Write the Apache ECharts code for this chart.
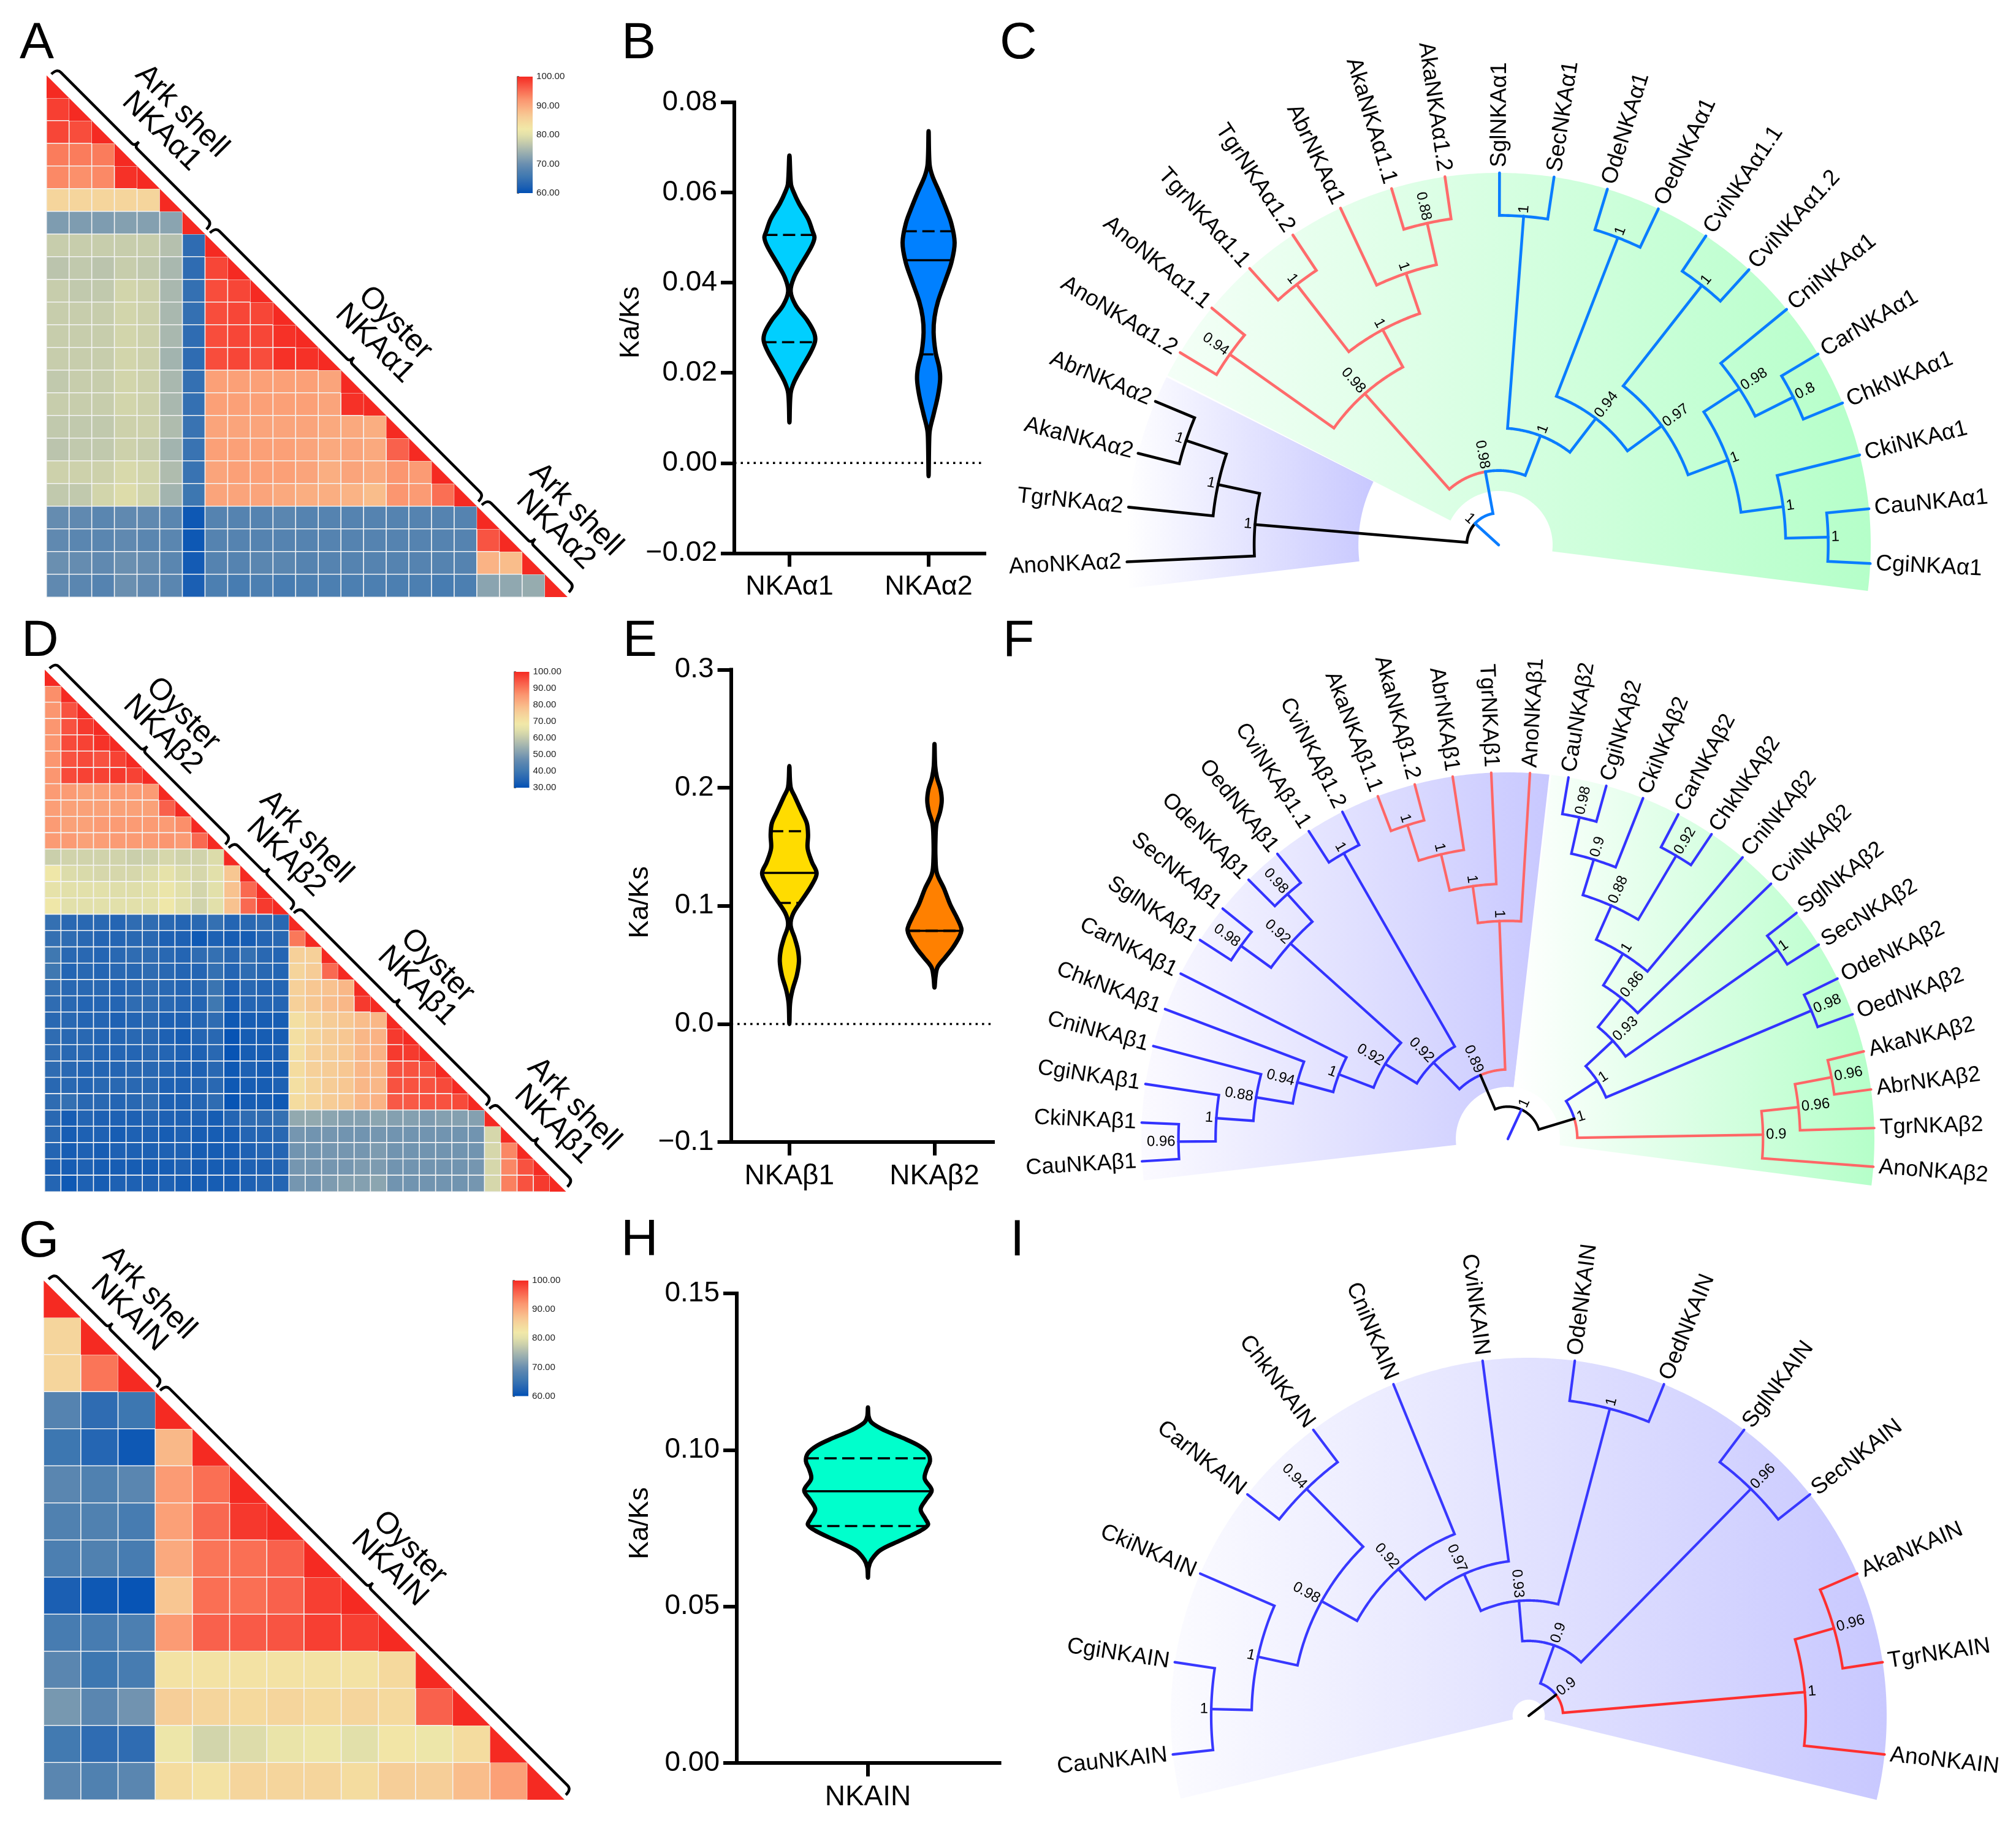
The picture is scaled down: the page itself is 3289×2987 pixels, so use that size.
<!DOCTYPE html>
<html><head><meta charset="utf-8">
<script src="https://cdn.jsdelivr.net/npm/echarts@6/dist/echarts.min.js"></script>
<style>html,body{margin:0;padding:0;background:#fff}#c{width:3289px;height:2987px}</style>
</head><body><div id="c"></div>
<script>
const FONT='"Liberation Sans",Arial,sans-serif';
const heatPalette=['#0050b5','#1b5fb3','#2f6cb2','#427ab1','#5583b0','#6a8fb0','#84a0b0','#9cb0af','#b5c0ae','#cdd1ab','#e2e0aa','#f1e8a8','#f4dc9f','#f6ce98','#f9bd8b','#faa97e','#fb9670','#fa7c5c','#f9614c','#f74637','#f52a22'];

// ---- pairwise identity matrices (lower triangle, last entry of each row is the diagonal)
const heatA=[
[100],[98.5,100],[98,97.5,100],[94,94,94,100],[93,92.5,93,99.5,100],[85,85,85,85,85,100],
[71.5,71.5,71.5,72,72,72.5,100],
[77.5,77.5,77.5,77.5,77.5,76,64,100],
[76.5,77,76.5,77.5,77,75,64,98,100],
[77.5,77,77,78.5,78,75,64.5,97.5,98,100],
[77.5,77.5,77.5,78.5,78,75,64.5,97.5,98,98,100],
[77.5,77.5,77.5,78.5,78,75,64,97.5,98,98,99.5,100],
[77.5,77.5,77.5,78.5,78,74.5,64,97.5,98,97.5,99.5,99.5,100],
[77,77.5,77.5,78.5,78,75,64.5,91,91,91,91,91,90.5,100],
[77.5,77.5,77.5,78.5,78,75,64.5,91,91,91,91,91,90.5,99.5,100],
[77,77,77,78,78,75.5,65,90.5,90.5,90.5,90.5,90.5,90,90,89.5,100],
[76.5,77,77,78,77.5,74.5,65,91,91,91,91,90.5,90,90.5,90,96,100],
[78,78,78,79,78.5,75.5,65,90.5,91,91,91,90.5,89.5,90.5,90,92,91.5,100],
[77,77,78.5,79.5,78.5,74.5,65.5,90.5,90.5,90.5,90,89.5,89.5,89,88,92,91.5,95,100],
[69.5,69,68.5,69,69,68.5,61,68,68,68,68.5,68,68,68,68,68,68,68,68,100],
[69,68.5,68.5,69,68.5,68.5,61,68,68,68,68,68,68,68,68,68,68,68,68,97,100],
[70,69.5,69,70,69.5,68.5,61.5,68,68,68.5,68.5,68,68,68,68,68,68,68,68,89,88,100],
[69,68.5,68,70,69,68.5,62,67,66.5,67,66.5,67,67,67,67,67,67,66.5,67,72.5,73,73.5,100]];
const heatD=[
[100],[87,100],[86,95,100],[86,95,98,100],[86,96,97,99,100],[86,95,96,95,97,100],[86,96,97,97,98,97,100],
[85,85,84,84.5,85,85,85,100],[84.5,84,84,84,84,84,84,93,100],[85,84,84,85,85,85,85,85,87,100],
[85,85,84,84.5,85,85,85,86,85,92,100],
[61,62,62,62,62,61,61.5,63,62,62,64,100],
[68,64,63.5,63,63,63,64,66,64,63,65,77,100],
[66,65,65,65,64.5,64.5,65,67,65,62.5,65,78,92,100],
[68,65,65,65,65,65,65,68,65,62,65,78,92,98,100],
[38,36,36,36,35,37,37,36,35,36,38,35,36,37,36,100],
[38,37,36,35,35,36,36,34,34,32,34,33,33,35,36,90,100],
[40,36,36,35,36,37,37,36,35,37,38,36,38,36,35,75,75,100],
[40,35,36,35,36,36,37,36,35,35,38,35,37,36,35,74,76,92,100],
[38,36,36,36,35,36,37,36,35,36,39,34,36,35,35,75,77,78,80,100],
[37,36,35,35,35,37,37,36,35,35,40,33,35,35,35,75,77,79,80,98,100],
[36,36,35,35,34,35,36,34,34,35,37,32,33,33,33,71,74,76,77,79,80,100],
[37,36,36,35,35,36,36,34,33,35,36,31,33,33,33,71,74,76,77,80,81,98,100],
[37,36,36,35,35,35,36,35,34,34,36,31,33,33,34,71,75,76,77,80,81,98,98,100],
[37,36,35,35,35,36,36,35,34,34,36,32,34,33,33,72,75,76,77,80,80,95,95,95,100],
[36,36,35,36,36,36,36,34,34,35,36,32,33,33,34,71,74,76,77,80,80,95,95,95,96,100],
[37,38,36,36,35,36,37,34,34,35,37,31,33,33,32,72,74,76,77,80,81,94,94,95,95,96,100],
[36,33,35,34,34,34,35,34,34,34,33,35,37,37,38,53,53,52,51,51,52,51,51,50,51,51,51,100],
[36,33,34,34,33,34,34,33,34,33,33,33,35,35,36,49,48.5,49,48.5,48.5,49,48.5,48.5,48.5,48.5,48.5,48.5,63,100],
[35,33,34,33,34,34,34,34,34,33,33,33,34,35,35,48.5,48.5,49,49,49,50,48.5,48.5,48.5,48.5,48.5,48.5,63,88,100],
[34,33,34,33,33,33,33,33,34,33,33,33,34,34,35,49,49,49,49,50,50,48.5,48.5,48.5,48.5,48.5,49,63,88,95,100],
[35,32,34,33,34,34,34,34,33,33,33,33,34,35,35,49,48.5,50,51,51,52,48.5,48.5,48.5,48.5,48.5,49,63,89,95,98,100]];
const heatG=[
[100],[85,100],[85,94.5,100],[68,64,65.5,100],[65.5,63,61,88.5,100],[68.5,67.5,68.5,91.5,95,100],
[67.5,67.5,66.5,91,95.5,99,100],[67,67.5,66.5,90,94.5,95,96,100],[62,61,60.5,87,95,95,96,98.5,100],
[66.5,66.5,67,91.5,96,96.5,97,98.5,98.5,100],[68.5,65.5,66.5,83,83,83,83,83,83,84.5,100],
[71,68.5,70.5,86,85,84.5,85,84.5,85,84.5,96,100],
[66,64,64,81.5,78.5,79.5,81,81.5,80,82.5,81.5,84,100],
[68.5,67.5,68.5,84,83,85,85,85,84,86,86,88,91,100]];
const bracesA=[[0,7],[7,19],[19,23]], bracesD=[[0,11],[11,15],[15,27],[27,32]], bracesG=[[0,3],[3,14]];

// ---- violin outlines: value, half width
const vAlpha1V=[.0682,.0619,.0602,.0576,.0541,.0515,.05,.048,.0446,.0411,.0381,.035,.0316,.029,.0271,.0246,.0212,.0181,.0155,.009];
const vAlpha1W=[0,.011,.029,.068,.135,.165,.18,.158,.094,.032,.009,.045,.129,.176,.185,.153,.09,.036,.009,0];
const vAlpha1Q=[.0506,.0381,.0268];
const vAlpha2V=[.0736,.0663,.0637,.0602,.0567,.0533,.0489,.0446,.0402,.0359,.0324,.029,.0246,.0212,.0186,.0151,.0108,.0073,.0047,-.0029];
const vAlpha2W=[0,.007,.027,.076,.122,.162,.187,.165,.117,.068,.043,.036,.05,.076,.083,.068,.036,.009,.004,0];
const vAlpha2Q=[.0514,.045,.0241];
const vBeta1V=[.2183,.2005,.1924,.1794,.1697,.1599,.1486,.1372,.1275,.1178,.1064,.0934,.0837,.0723,.0626,.0529,.0415,.0285,.0172,0];
const vBeta1W=[0,.009,.038,.086,.121,.129,.126,.155,.188,.155,.095,.026,.009,.038,.059,.066,.052,.021,.005,0];
const vBeta1Q=[.1632,.1279,.1025];
const vBeta2V=[.2371,.2183,.2086,.1989,.1891,.1794,.1697,.1567,.1405,.1275,.1145,.1015,.0918,.0837,.0795,.074,.0642,.0561,.048,.0399,.0308];
const vBeta2W=[0,.005,.017,.041,.05,.038,.014,.007,.007,.017,.066,.107,.147,.178,.186,.172,.124,.072,.021,.007,0];
const vBeta2Q=[.0788,.0788,.0788];
const vNkainV=[.1136,.1106,.1087,.1063,.1038,.1013,.0989,.0964,.0939,.0908,.0871,.0841,.081,.0779,.0761,.0742,.0711,.068,.065,.0625,.0592];
const vNkainW=[0,.006,.031,.133,.286,.418,.49,.506,.48,.463,.52,.473,.43,.47,.49,.429,.265,.102,.031,.006,0];
const vNkainQ=[.0973,.0868,.0757];

// ---- trees: [support, colour key or null, child, child]; leaves are names, ordered clockwise
const treeC=[1,null,
 [1,'k','AnoNKAα2',[1,null,'TgrNKAα2',[1,null,'AkaNKAα2','AbrNKAα2']]],
 [.98,'b',
  [.98,'r',[.94,null,'AnoNKAα1.2','AnoNKAα1.1'],[1,null,[1,null,'TgrNKAα1.1','TgrNKAα1.2'],[1,null,'AbrNKAα1',[.88,null,'AkaNKAα1.1','AkaNKAα1.2']]]],
  [1,'b',[1,null,'SglNKAα1','SecNKAα1'],[.94,null,[1,null,'OdeNKAα1','OedNKAα1'],[.97,null,[1,null,'CviNKAα1.1','CviNKAα1.2'],[1,null,[.98,null,'CniNKAα1',[.8,null,'CarNKAα1','ChkNKAα1']],[1,null,'CkiNKAα1',[1,null,'CauNKAα1','CgiNKAα1']]]]]]]];
const treeF=[1,'k',
 [.89,'k',
  [.92,'b',[.92,null,[1,null,[.94,null,[.88,null,[1,null,[.96,null,'CauNKAβ1','CkiNKAβ1'],'CgiNKAβ1'],'CniNKAβ1'],'ChkNKAβ1'],'CarNKAβ1'],
    [.92,null,[.98,null,'SglNKAβ1','SecNKAβ1'],[.98,null,'OdeNKAβ1','OedNKAβ1']]],[1,null,'CviNKAβ1.1','CviNKAβ1.2']],
  [1,'r',[1,null,[1,null,[1,null,'AkaNKAβ1.1','AkaNKAβ1.2'],'AbrNKAβ1'],'TgrNKAβ1'],'AnoNKAβ1']],
 [1,'k',
  [1,'b',[.93,null,[.86,null,[1,null,[.88,null,[.9,null,[.98,null,'CauNKAβ2','CgiNKAβ2'],'CkiNKAβ2'],[.92,null,'CarNKAβ2','ChkNKAβ2']],'CniNKAβ2'],'CviNKAβ2'],[1,null,'SglNKAβ2','SecNKAβ2']],[.98,null,'OdeNKAβ2','OedNKAβ2']],
  [.9,'r',[.96,null,[.96,null,'AkaNKAβ2','AbrNKAβ2'],'TgrNKAβ2'],'AnoNKAβ2']]];
const treeI=[.9,'b',
 [.9,'b',[.93,null,[.97,null,[.92,null,[.98,null,[1,null,[1,null,'CauNKAIN','CgiNKAIN'],'CkiNKAIN'],[.94,null,'CarNKAIN','ChkNKAIN']],'CniNKAIN'],'CviNKAIN'],[1,null,'OdeNKAIN','OedNKAIN']],[.96,null,'SglNKAIN','SecNKAIN']],
 [1,'r',[.96,null,'AkaNKAIN','TgrNKAIN'],'AnoNKAIN']];
// fans: inner radius (share of outer), start angle, end angle
const fansC=[[.145,-7.1,153.2,'#f4fff7','#b5ffc9'],[.377,153.2,186.7,'#ffffff','#c8c8ff']];
const fansF=[[.142,83.5,186.6,'#fbfaff','#c8c8ff'],[.142,-7.3,83.5,'#ffffff','#b5ffc9']];
const fansI=[[.045,-13.6,193.4,'#fbfbff','#c8c8ff']];

const grid=[],xAxis=[],yAxis=[],series=[],visualMap=[],polar=[],angleAxis=[],radiusAxis=[],gfx=[];

function addHeat(rows,rect,range,braces){
  const g=grid.length; grid.push({left:rect[0],top:rect[1],width:rect[2]-rect[0],height:rect[3]-rect[1],containLabel:false});
  const cats=rows.map((_,i)=>String(i));
  xAxis.push({gridIndex:g,type:'category',data:cats,show:false});
  yAxis.push({gridIndex:g,type:'category',data:cats,show:false,inverse:true});
  const cells=[],diag=[];
  rows.forEach((r,i)=>r.forEach((v,j)=>{ if(j<i) cells.push([j,i,v]); else diag.push([j,i,v]); }));
  visualMap.push({show:false,min:range[0],max:range[1],dimension:2,seriesIndex:series.length,inRange:{color:heatPalette}});
  series.push({type:'heatmap',xAxisIndex:g,yAxisIndex:g,data:cells,progressive:0,itemStyle:{borderColor:'#f4f4f4',borderWidth:1.6},emphasis:{disabled:true}});
  series.push({type:'custom',xAxisIndex:g,yAxisIndex:g,data:diag,encode:{x:0,y:1},progressive:0,
    renderItem(p,api){
      const c=api.coord([api.value(0),api.value(1)]),s=api.size([1,1]);
      return {type:'polygon',shape:{points:[[c[0]-s[0]/2,c[1]-s[1]/2],[c[0]-s[0]/2,c[1]+s[1]/2],[c[0]+s[0]/2,c[1]+s[1]/2]]},
        style:{fill:heatPalette[20],stroke:'#fff',lineWidth:0}};
    }});
  series.push({type:'custom',xAxisIndex:g,yAxisIndex:g,data:braces,encode:{x:0,y:1},z:5,
    renderItem(p,api){
      const a=braces[p.dataIndex][0],b=braces[p.dataIndex][1];
      const c0=api.coord([0,0]),s=api.size([1,1]);
      const ox=c0[0]-s[0]/2,oy=c0[1]-s[1]/2,q=Math.SQRT1_2,L=Math.hypot(s[0],s[1]);
      const P=(u,v)=>{const x=ox+u*s[0]/L*1,y=oy+u*s[1]/L*1;return (x+v*q).toFixed(1)+' '+(y-v*q).toFixed(1);};
      const A=a*L+4,B=b*L-4,M=(a+b)/2*L,h=20;
      const d='M'+P(A,7)+' Q'+P(A,h)+' '+P(A+9,h)+' L'+P(M-6,h)+' Q'+P(M,h)+' '+P(M,h+10)+' Q'+P(M,h)+' '+P(M+6,h)+' L'+P(B-9,h)+' Q'+P(B,h)+' '+P(B,7);
      return {type:'path',shape:{pathData:d},style:{fill:'none',stroke:'#000',lineWidth:4.5}};
    }});
}
function addColorbar(rect,min,max){
  const g=grid.length; grid.push({left:rect[0],top:rect[1],width:rect[2]-rect[0],height:rect[3]-rect[1]});
  xAxis.push({gridIndex:g,type:'value',min:0,max:1,show:false});
  yAxis.push({gridIndex:g,type:'value',min:min,max:max,interval:10,position:'right',splitLine:{show:false},
    axisLine:{show:true,lineStyle:{color:'#444',width:1.5}},axisTick:{show:true,length:3,lineStyle:{color:'#444',width:1.5}},
    minorTick:{show:true,splitNumber:2,length:3,lineStyle:{color:'#444',width:1.5}},
    axisLabel:{margin:6,fontFamily:FONT,fontSize:15.2,color:'#222',formatter:v=>v.toFixed(2)}});
  series.push({type:'custom',xAxisIndex:g,yAxisIndex:g,data:[[0,min],[1,max]],encode:{x:0,y:1},
    renderItem(p,api){
      if(p.dataIndex) return null;
      const a=api.coord([0,max]),b=api.coord([1,min]);
      return {type:'rect',shape:{x:a[0],y:a[1],width:b[0]-a[0],height:b[1]-a[1]},
        style:{fill:{type:'linear',x:0,y:1,x2:0,y2:0,colorStops:heatPalette.map((c,i)=>({offset:i/20,color:c}))}}};
    }});
}
function addViolinPanel(rect,xr,yr,cfg){
  const g=grid.length; grid.push({left:rect[0],top:rect[1],width:rect[2]-rect[0],height:rect[3]-rect[1]});
  const fs=cfg.catFont||45, cv=cfg.cats.map((_,i)=>i);
  xAxis.push({gridIndex:g,type:'value',min:xr[0],max:xr[1],splitLine:{show:false},
    axisLine:{show:true,onZero:false,lineStyle:{color:'#000',width:6,cap:'square'}},
    axisTick:{show:true,customValues:cv,length:22,lineStyle:{color:'#000',width:6}},
    axisLabel:{show:true,customValues:cv,margin:cfg.catMargin||33,fontFamily:FONT,fontSize:fs,color:'#000',formatter:v=>cfg.cats[Math.round(v)]||''}});
  yAxis.push({gridIndex:g,type:'value',min:yr[0],max:yr[1],interval:yr[2],splitLine:{show:false},
    axisLine:{show:true,onZero:false,lineStyle:{color:'#000',width:6,cap:'square'}},
    axisTick:{show:true,length:22,lineStyle:{color:'#000',width:6}},
    axisLabel:{margin:28,fontFamily:FONT,fontSize:46,color:'#000',showMinLabel:true,showMaxLabel:true,formatter:v=>(Math.abs(v)<1e-9?0:v).toFixed(yr[3]).replace('-','\u2212')}});
  if(cfg.zero) series.push({type:'line',xAxisIndex:g,yAxisIndex:g,data:[[xr[0],0],[xr[1],0]],symbol:'none',z:1,lineStyle:{color:'#000',width:3.5,type:[3.5,7]}});
  cfg.violins.forEach((V,i)=>{
    const pts=V.v.map((y,k)=>[V.w[k],y]);
    series.push({type:'custom',xAxisIndex:g,yAxisIndex:g,data:pts,encode:{x:0,y:1},z:3,
      renderItem(p,api){
        if(p.dataIndex) return null;
        const right=V.v.map((y,k)=>api.coord([i+V.w[k],y]));
        const left=V.v.map((y,k)=>api.coord([i-V.w[k],y])).reverse();
        const ws=y=>{ for(let k=0;k<V.v.length-1;k++){ if(y<=V.v[k]&&y>=V.v[k+1]){const t=(V.v[k]-y)/(V.v[k]-V.v[k+1]);return V.w[k]+t*(V.w[k+1]-V.w[k]);} } return 0; };
        const kids=[{type:'polygon',shape:{points:right.concat(left.slice(1,-1)),smooth:0.35},style:{fill:V.color,stroke:'#000',lineWidth:7,lineJoin:'round'}}];
        V.q.forEach((y,k)=>{
          const w=ws(y),a=api.coord([i-w,y]),b=api.coord([i+w,y]);
          kids.push({type:'line',shape:{x1:a[0],y1:a[1],x2:b[0],y2:b[1]},style:{stroke:'#000',lineWidth:3.5,lineDash:k===1?null:[20,9]},z2:3});
        });
        return {type:'group',children:kids};
      }});
  });
}
function addTree(tree,cx,cy,R,depth,a0,step,colors,stemColor,fans,fontSize,lineW){
  const idx=polar.length;
  polar.push({center:[cx,cy],radius:[0,R]});
  angleAxis.push({polarIndex:idx,type:'value',min:-90,max:270,startAngle:-90,clockwise:false,show:false});
  radiusAxis.push({polarIndex:idx,type:'value',min:0,max:1,show:false});
  const segs=[],labels=[]; let n=0;
  const rOf=h=>1-h/depth;
  function walk(node,col){
    if(typeof node==='string'){ const ang=a0-step*(n++); labels.push([1,ang,node,1]); return {h:0,ang,col}; }
    const c=node[1]?colors[node[1]]:col;
    const kids=node.slice(2).map(k=>walk(k,c));
    const h=Math.max(...kids.map(k=>k.h))+1, ang=(kids[0].ang+kids[kids.length-1].ang)/2;
    kids.forEach(k=>segs.push([rOf(h),k.ang,rOf(k.h),ang,k.col]));
    labels.push([rOf(h),ang,String(node[0]),0]);
    return {h,ang,col:c};
  }
  const root=walk(tree,stemColor);
  segs.push([0,root.ang,rOf(root.h),root.ang,stemColor]);
  series.push({type:'custom',coordinateSystem:'polar',polarIndex:idx,data:fans.map(f=>[f[0],f[1]]),z:1,silent:true,
    renderItem(p,api){
      const f=fans[p.dataIndex],pts=[];
      for(let a=f[1];a<=f[2]+1e-6;a+=0.5) pts.push(api.coord([1,a]).slice(0,2));
      for(let a=f[2];a>=f[1]-1e-6;a-=0.5) pts.push(api.coord([f[0],a]).slice(0,2));
      return {type:'polygon',shape:{points:pts},style:{fill:{type:'linear',x:0,y:0,x2:1,y2:0,colorStops:[{offset:0,color:f[3]},{offset:1,color:f[4]}]}}};
    }});
  series.push({type:'custom',coordinateSystem:'polar',polarIndex:idx,data:segs.map(s=>[s[0],s[1]]),z:2,silent:true,
    renderItem(p,api){
      const s=segs[p.dataIndex],pts=[],dir=s[3]>s[1]?1:-1;
      pts.push(api.coord([s[2],s[1]]).slice(0,2));
      for(let a=s[1];dir*(s[3]-a)>0;a+=dir*0.5) pts.push(api.coord([s[0],a]).slice(0,2));
      pts.push(api.coord([s[0],s[3]]).slice(0,2));
      return {type:'polyline',shape:{points:pts},style:{fill:'none',stroke:s[4],lineWidth:lineW,lineJoin:'miter',lineCap:'round'}};
    }});
  series.push({type:'custom',coordinateSystem:'polar',polarIndex:idx,data:labels.map(l=>[l[0],l[1]]),z:3,silent:true,
    renderItem(p,api){
      const l=labels[p.dataIndex],c=api.coord([l[0],l[1]]),rad=l[1]*Math.PI/180,right=Math.cos(rad)>=-1e-9;
      const gap=l[3]?9:5;
      return {type:'text',x:c[0]+gap*Math.cos(rad),y:c[1]-gap*Math.sin(rad),rotation:right?rad:rad-Math.PI,
        style:{text:l[2],fill:'#000',font:(l[3]?fontSize:24)+'px '+FONT,textAlign:right?'left':'right',textVerticalAlign:'middle',verticalAlign:'middle'}};
    }});
}
function text(t,x,y,size,rot,extra){
  gfx.push(Object.assign({type:'text',x,y,rotation:rot||0,z:50,silent:true,
    style:{text:t,fill:'#000',font:size+'px '+FONT,textAlign:'center',textVerticalAlign:'middle',verticalAlign:'middle'}},extra||{}));
}

addHeat(heatA,[76,123,926,974],[60,100],bracesA);
addHeat(heatD,[73,1092.5,923.5,1944],[30,100],bracesD);
addHeat(heatG,[71.4,2089,921,2936],[60,100],bracesG);
addColorbar([844,125,869,315],60,100);
addColorbar([839,1096,863.5,1285],30,100);
addColorbar([837,2089,862,2277.5],60,100);

addViolinPanel([1198,167,1606,902.4],[-0.396,1.401],[-0.02,0.08,0.02,2],{cats:['NKAα1','NKAα2'],zero:true,violins:[
  {v:vAlpha1V,w:vAlpha1W,q:vAlpha1Q,color:'#00cfff'},{v:vAlpha2V,w:vAlpha2W,q:vAlpha2Q,color:'#0080ff'}]});
addViolinPanel([1192.6,1092.5,1620,1863],[-0.402,1.403],[-0.1,0.3,0.1,1],{cats:['NKAβ1','NKAβ2'],zero:true,catFont:46,violins:[
  {v:vBeta1V,w:vBeta1W,q:vBeta1Q,color:'#ffdc00'},{v:vBeta2V,w:vBeta2W,q:vBeta2Q,color:'#ff8000'}]});
addViolinPanel([1202,2110,1630.6,2876],[-1.07,1.073],[0,0.15,0.05,2],{cats:['NKAIN'],catFont:46,violins:[
  {v:vNkainV,w:vNkainW,q:vNkainQ,color:'#00ffcc'}]});

addTree(treeC,2445,889,607,8.75,182.6,8.43,{k:'#000',r:'#ff6b6b',b:'#0a7dff'},'#0a7dff',fansC,37,4.6);
addTree(treeF,2460,1858,598,9.87,183.5,6.06,{k:'#000',r:'#ff6666',b:'#3333ff'},'#3333ff',fansF,36,4.2);
addTree(treeI,2494,2799,584,8.85,186.2,14.8,{k:'#000',r:'#ff3030',b:'#3838ff'},'#000',fansI,37,4.2);

// panel letters
[['A',32,72],['B',1014,72],['C',1631,72],['D',35,1047],['E',1016,1047],['F',1636,1047],['G',31,2027],['H',1013,2025],['I',1648,2025]]
  .forEach(l=>text(l[0],l[1],l[2],84,0,{style:{text:l[0],fill:'#000',font:'84px '+FONT,textAlign:'left',textVerticalAlign:'middle',verticalAlign:'middle'}}));
// group labels
const R45=-Math.PI/4, groupFont=50, groupLine=47;
[['Ark shell\nNKAα1',280,198],['Oyster\nNKAα1',628,544],['Ark shell\nNKAα2',923,848],
 ['Oyster\nNKAβ2',282,1182],['Ark shell\nNKAβ2',483,1382],['Oyster\nNKAβ1',697,1592],['Ark shell\nNKAβ1',920,1818],
 ['Ark shell\nNKAIN',227,2126],['Oyster\nNKAIN',652,2542]]
 .forEach(g=>text(g[0],g[1],g[2],groupFont,R45,{style:{text:g[0],fill:'#000',font:groupFont+'px '+FONT,lineHeight:groupLine,textAlign:'center',textVerticalAlign:'middle',verticalAlign:'middle'}}));
// violin axis names
[[1030,526],[1045,1472],[1045,2485]].forEach(p=>text('Ka/Ks',p[0],p[1],44,Math.PI/2));

const chart=echarts.init(document.getElementById('c'),null,{renderer:'canvas',width:3289,height:2987});
chart.setOption({animation:false,backgroundColor:'#fff',tooltip:{show:false},grid,xAxis,yAxis,polar,angleAxis,radiusAxis,visualMap,series,graphic:{elements:gfx}});
</script></body></html>
